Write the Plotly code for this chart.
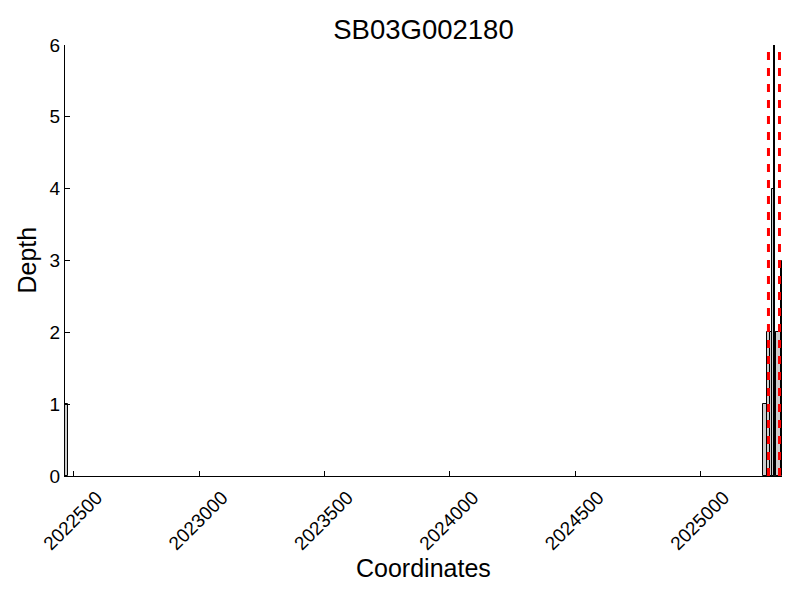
import plotly.graph_objects as go

# Depth intervals (bedgraph-like): start, end, depth
seg_start = [2022465, 2025250, 2025264, 2025276, 2025286, 2025291, 2025295, 2025302, 2025319]
seg_end   = [2022477, 2025264, 2025276, 2025286, 2025291, 2025295, 2025302, 2025319, 2025324]
seg_depth = [1, 1, 2, 2, 4, 6, 2, 2, 3]

# Feature boundaries (red dashed lines)
marker_pos = [2025270, 2025314]

x_ticks = [2022500, 2023000, 2023500, 2024000, 2024500, 2025000]
y_ticks = [0, 1, 2, 3, 4, 5, 6]
x_range = [2022465, 2025324]
y_range = [0, 6]

FONT = "Liberation Sans, Arial, Helvetica, sans-serif"

fig = go.Figure()
fig.add_trace(go.Bar(
    x=seg_start,
    y=seg_depth,
    width=[e - s for s, e in zip(seg_start, seg_end)],
    offset=0,
    marker=dict(color="#cccccc", line=dict(color="black", width=1)),
    showlegend=False,
))

for p in marker_pos:
    fig.add_trace(go.Scatter(
        x=[p, p], y=[y_range[0], y_range[1]],
        mode="lines",
        line=dict(color="red", width=3, dash="8px,8px"),
        showlegend=False, hoverinfo="skip",
    ))

# page body has an 8px offset; margins compensate so the plot area lands at 65..782 x 45..476
fig.update_layout(
    width=800, height=600,
    margin=dict(l=57, r=26, t=37, b=132),
    paper_bgcolor="white", plot_bgcolor="white",
    font=dict(family=FONT, color="black", size=19),
    title=dict(text="SB03G002180", x=0.5, xref="paper", y=1 - 21 / 600,
               yref="container", yanchor="middle", xanchor="center",
               font=dict(size=27.5, family=FONT, color="black")),
    bargap=0,
    annotations=[
        dict(text="Coordinates", xref="paper", yref="paper", x=0.5, y=-(568 - 476) / 431,
             yanchor="middle", xanchor="center", showarrow=False,
             font=dict(size=25, family=FONT, color="black")),
        dict(text="Depth", xref="paper", yref="paper", x=-(65 - 26) / 717, y=0.5,
             textangle=-90, yanchor="middle", xanchor="center", showarrow=False,
             font=dict(size=25, family=FONT, color="black")),
    ],
)

fig.update_xaxes(
    range=x_range, tickvals=x_ticks, ticktext=[str(v) for v in x_ticks],
    tickangle=-45, ticks="inside", ticklen=5, tickcolor="black",
    ticklabelshift=23, ticklabelstandoff=2,
    showline=True, linecolor="black", linewidth=1, mirror=False,
    showgrid=False, zeroline=False, tickfont=dict(size=19),
)
fig.update_yaxes(
    range=y_range, tickvals=y_ticks, ticks="inside", ticklen=5, tickcolor="black",
    showline=True, linecolor="black", linewidth=1, mirror=False,
    showgrid=False, zeroline=False, tickfont=dict(size=19),
)

fig.write_html("out.html")
